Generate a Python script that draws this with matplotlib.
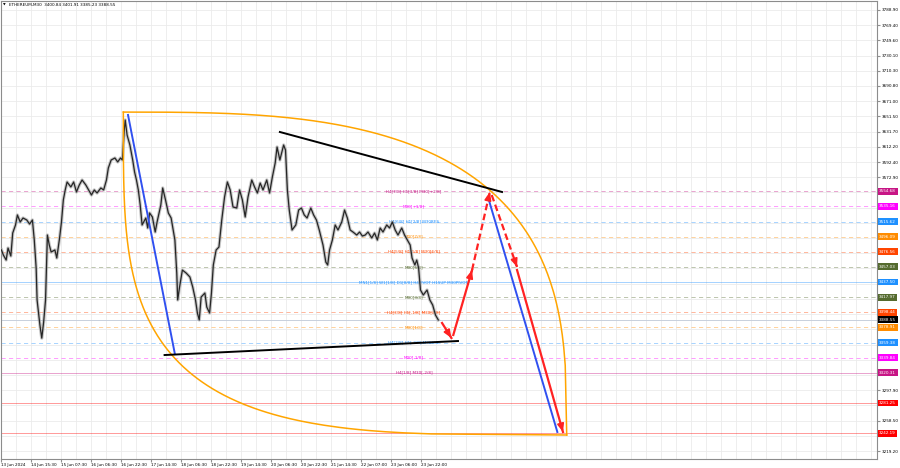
import numpy as np
import matplotlib.pyplot as plt

# ETHEREUM M30 closes, sampled along the chart (bar index from the left edge)
bars = [0, 2, 5, 7, 10, 12, 15, 17, 20, 23,
        27, 30, 33, 35, 37, 38, 41, 43, 45, 47,
        49, 51, 53, 57, 59, 62, 64, 66, 68, 70,
        74, 77, 80, 83, 86, 90, 93, 96, 99, 102,
        106, 109, 112, 114, 117, 121, 124, 127, 129, 131,
        132, 134, 137, 140, 142, 144, 146, 148, 150, 154,
        156, 158, 161, 164, 166, 170, 172, 175, 178, 181,
        185, 187, 188, 190, 193, 197, 201, 204, 207, 209,
        211, 213, 217, 219, 222, 224, 226, 229, 232, 235,
        238, 241, 244, 247, 251, 254, 257, 260, 263, 267,
        270, 273, 276, 279, 283, 286, 289, 292, 294, 297,
        301, 303, 305, 307, 310, 314, 317, 320, 323, 326,
        330, 333, 336, 339, 343, 346, 348, 350, 353, 356,
        359, 363, 366, 369, 372, 375, 379, 382, 385, 388,
        391, 395, 398, 401, 404, 407, 411, 414, 417, 420,
        423, 427, 430, 433, 436, 438, 441, 443, 445, 447,
        450, 454, 457, 460, 463, 466]
closes = [3478.9, 3472.4, 3465.9, 3481.4, 3471.1, 3500.8, 3511.2, 3524.1, 3515.0, 3520.2,
          3517.6, 3512.4, 3517.6, 3491.8, 3455.6, 3414.3, 3382.0, 3365.0, 3385.9, 3414.3,
          3498.2, 3485.3, 3476.3, 3478.9, 3468.5, 3494.4, 3515.0, 3543.5, 3556.4, 3566.7,
          3560.3, 3566.7, 3553.8, 3562.8, 3569.3, 3562.8, 3556.4, 3549.9, 3556.4, 3552.5,
          3559.0, 3556.4, 3569.3, 3584.8, 3595.1, 3597.7, 3592.6, 3597.7, 3595.1, 3633.9,
          3646.8, 3627.4, 3614.5, 3595.1, 3579.6, 3569.3, 3556.4, 3537.0, 3511.2, 3520.2,
          3507.3, 3526.7, 3521.5, 3502.1, 3515.0, 3537.0, 3559.0, 3543.5, 3526.7, 3520.2,
          3491.8, 3449.1, 3414.3, 3431.1, 3453.0, 3449.1, 3444.0, 3431.1, 3414.3, 3397.5,
          3388.5, 3418.1, 3423.3, 3405.2, 3397.5, 3423.3, 3459.5, 3478.9, 3482.7, 3517.6,
          3547.3, 3566.7, 3556.4, 3534.4, 3533.1, 3556.4, 3543.5, 3521.5, 3547.3, 3569.3,
          3560.3, 3552.5, 3565.4, 3556.4, 3569.3, 3552.5, 3573.2, 3591.3, 3611.9, 3595.1,
          3614.5, 3608.0, 3556.4, 3530.5, 3504.7, 3511.2, 3530.5, 3533.1, 3524.1, 3520.2,
          3533.1, 3524.1, 3517.6, 3504.7, 3485.3, 3463.3, 3459.5, 3478.9, 3491.8, 3511.2,
          3504.7, 3515.0, 3530.5, 3520.2, 3504.7, 3502.1, 3498.2, 3502.1, 3496.9, 3498.2,
          3502.1, 3494.4, 3500.8, 3491.8, 3507.3, 3502.1, 3511.2, 3507.3, 3515.0, 3504.7,
          3498.2, 3507.3, 3498.2, 3491.8, 3485.3, 3468.5, 3459.5, 3465.9, 3455.6, 3427.2,
          3420.7, 3427.2, 3414.3, 3407.8, 3394.9, 3388.55]
last_price = 3388.55

# Murrey-math style levels
levels = [3554.68, 3535.16, 3515.62, 3496.09, 3476.56, 3457.03, 3437.50, 3417.97,
          3398.44, 3378.91, 3359.38, 3339.84, 3320.31, 3281.25, 3242.19]
level_names = ["H4[7/8] H1[3/8] M30[+2/8]", "M30[+1/8]", "H4[6/8] H1[2/8] M30RES",
               "M30[7/8]", "H4[5/8] H1[1/8] M30[6/8]", "M30[5/8]",
               "MN1[1/8] W1[1/8] D1[8/8] H4PIVOT H1SUP M30PIVOT", "M30[3/8]",
               "H4[3/8] H1[-1/8] M30[2/8]", "M30[1/8]", "H4[2/8] H1[-2/8] M30SUP",
               "M30[-1/8]", "H4[1/8] M30[-2/8]", "", ""]
level_colors = ['#C71585', '#FF00FF', '#1E90FF', '#FF8C00', '#FF4500', '#556B2F',
                '#1E90FF', '#556B2F', '#FF4500', '#FF8C00', '#1E90FF', '#FF00FF',
                '#C71585', '#FF0000', '#FF0000']
level_solid = [False, False, False, False, False, False, True, False,
               False, False, False, False, True, True, True]

# axis ticks
x_tick_bars = [0, 32, 64, 96, 128, 160, 192, 224, 256, 288, 320, 352, 384, 416, 448]
x_tick_labels = ['13 Jun 2024', '14 Jun 15:30', '15 Jun 07:30', '16 Jun 06:30',
                 '16 Jun 22:30', '17 Jun 14:30', '18 Jun 06:30', '18 Jun 22:30',
                 '19 Jun 14:30', '20 Jun 06:30', '20 Jun 22:30', '21 Jun 14:30',
                 '22 Jun 07:00', '23 Jun 06:00', '23 Jun 22:00']
y_grid = [3219.2, 3238.9, 3258.5, 3278.2, 3297.9, 3317.5, 3337.2, 3356.8, 3376.5,
          3396.1, 3415.8, 3435.4, 3455.1, 3474.7, 3494.3, 3514.0, 3533.6, 3553.3,
          3572.9, 3592.4, 3612.2, 3631.7, 3651.5, 3671.0, 3690.8, 3710.3, 3730.1,
          3749.6, 3769.4, 3788.9]
y_shown = ['3219.20', '', '3258.50', '', '3297.90', '', '', '', '', '', '', '', '',
           '', '', '', '', '', '3572.90', '3592.40', '3612.20', '3631.70', '3651.50',
           '3671.00', '3690.80', '3710.30', '3730.10', '3749.60', '3769.40', '3788.90']

# hand drawn objects: (bar0, price0, bar1, price1)
blue_lines = [(135, 3653.3, 185, 3344.5), (519, 3547.3, 593, 3243.8)]
black_lines = [(174, 3343.2, 487, 3361.3), (297, 3631.3, 534, 3553.8)]
red_arrows = [(470, 3384.6, 480, 3365.2, False), (482, 3369.1, 502, 3453.0, False),
              (502, 3453.0, 521, 3553.8, True), (523, 3549.9, 550, 3456.9, True),
              (550, 3453.0, 599, 3243.8, False)]
lens_top = (130, 3657.0)
lens_bottom = (603, 3239.9)

fig = plt.figure(figsize=(9, 4.68), dpi=100)
ax = fig.add_axes([1 / 900, 9 / 468, 876 / 900, 458 / 468])
ax.set_xlim(-0.5, 934)
ax.set_ylim(3208.9, 3800.5)

# grid
ax.set_xticks(np.arange(0, 934, 16), minor=True)
ax.set_xticks(x_tick_bars)
ax.set_xticklabels(x_tick_labels, ha='left')
ax.set_yticks(y_grid)
ax.set_yticklabels(y_shown)
ax.yaxis.tick_right()
ax.grid(True, which='both', axis='x', color='#ebebeb', lw=0.6)
ax.grid(True, axis='y', color='#ebebeb', lw=0.6)
ax.set_axisbelow(True)
ax.tick_params(axis='x', which='major', length=2, pad=1, labelsize=3, color='#909090')
ax.tick_params(axis='x', which='minor', length=0)
ax.tick_params(axis='y', length=2, pad=1.5, labelsize=3, color='#909090')
for s in ax.spines.values():
    s.set_color('#8c8c8c')
    s.set_linewidth(0.8)

# levels
ytr = ax.get_yaxis_transform()
for lvl, name, col, solid in zip(levels, level_names, level_colors, level_solid):
    if solid:
        ax.axhline(lvl, color=col, lw=0.7, alpha=0.4, zorder=1)
    else:
        ax.axhline(lvl, color=col, lw=0.6, alpha=0.45, ls=(0, (5, 4)), zorder=1)
    if name:
        ax.text(440, lvl, name, color=col, fontsize=3, ha='center', va='center', zorder=2)
    ax.text(1.0025, lvl, f'{lvl:.2f}', transform=ytr, fontsize=3, color='white',
            ha='left', va='center', clip_on=False, zorder=10,
            bbox=dict(boxstyle='square,pad=0.35', fc=col, ec='none'))

ax.axhline(last_price, color='#c8d0dc', lw=0.7, zorder=1)
ax.text(1.0025, last_price, f'{last_price:.2f}', transform=ytr, fontsize=3, color='white',
        ha='left', va='center', clip_on=False, zorder=11,
        bbox=dict(boxstyle='square,pad=0.35', fc='black', ec='none'))

# price (wide grey halo stands in for the candle wicks)
ax.plot(bars, closes, color='#a0a0a0', lw=2.4, alpha=0.6, zorder=3)
ax.plot(bars, closes, color='#262626', lw=0.9, zorder=4)

# orange lens
t = np.linspace(0, 1, 300)
(x0, y0), (x1, y1) = lens_top, lens_bottom
v_top = 1 - (1 - t ** 3) ** (1 / 3)
ax.plot(x0 + t * (x1 - x0), y0 - v_top * (y0 - y1), color='#FFA500', lw=1.1, zorder=5)
u_bot = 1 - (1 - t ** 3.7) ** (1 / 3.7)
ax.plot(x0 + u_bot * (x1 - x0), y0 - t * (y0 - y1), color='#FFA500', lw=1.1, zorder=5)

for bx0, p0, bx1, p1 in blue_lines:
    ax.plot([bx0, bx1], [p0, p1], color='#3050F0', lw=1.4, zorder=6)
for bx0, p0, bx1, p1 in black_lines:
    ax.plot([bx0, bx1], [p0, p1], color='black', lw=1.4, zorder=6)

for bx0, p0, bx1, p1, dashed in red_arrows:
    ls = (0, (3, 1.6)) if dashed else '-'
    ax.plot([bx0, bx1], [p0, p1], color='#FF2222', lw=1.6, ls=ls, zorder=7)
    ax.annotate('', xy=(bx1, p1), xytext=(bx1 - 0.02 * (bx1 - bx0), p1 - 0.02 * (p1 - p0)),
                arrowprops=dict(arrowstyle='-|>,head_length=0.6,head_width=0.25',
                                color='#FF2222', lw=1.2, shrinkA=0, shrinkB=0,
                                mutation_scale=8), zorder=7)

fig.text(3 / 900, 1 - 5 / 468, '\u25bc', fontsize=2.5, va='center', ha='left')
fig.text(9 / 900, 1 - 5 / 468, 'ETHEREUM,M30  3400.84 3401.91 3385.23 3388.55',
         fontsize=3, va='center', ha='left')

fig.savefig('out.png', dpi=100)
